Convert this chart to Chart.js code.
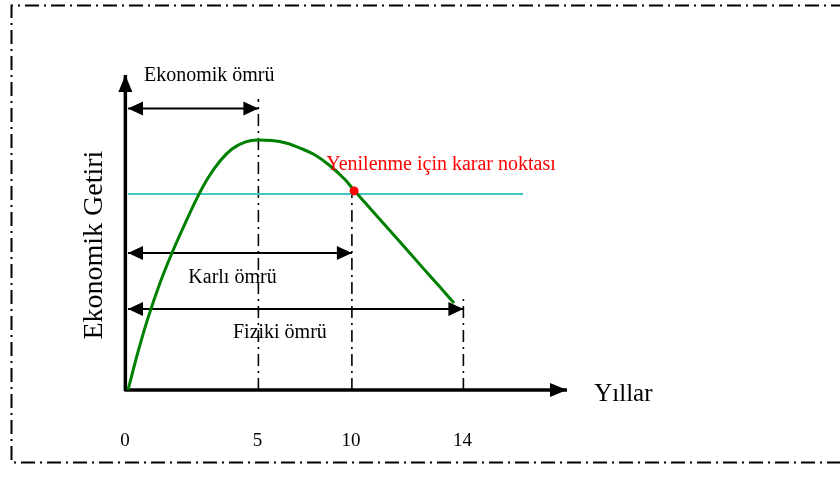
<!DOCTYPE html>
<html lang="tr">
<head>
<meta charset="utf-8">
<title>Ekonomik Getiri</title>
<script src="https://cdn.jsdelivr.net/npm/chart.js@4.4.1/dist/chart.umd.min.js"></script>
<style>
    html, body { margin: 0; padding: 0; background: #fff; }
    #wrap { position: relative; width: 840px; height: 483px; }
</style>
</head>
<body>
<div id="wrap"><canvas id="life-chart"></canvas></div>
<script>
(function() {
    'use strict';

    // x: drawing units along the time axis (0 = origin, 100 = arrow tip)
    // y: economic return (0 = origin, 100 = arrow tip)
    const yearLabels = ['0', '5', '10', '14'];
    const yearPositions = [0, 29.7, 51.0, 76.4];

    // economic return curve
    const curveX = [0, 2.28, 4.56, 7.29, 10.02, 12.76, 15.49, 18.22, 20.96, 23.69, 26.65, 29.61,
                    32.80, 35.99, 39.18, 42.60, 46.01, 49.43, 51.25, 53.99, 57.40, 61.96, 66.51, 71.07, 74.26];
    const curveY = [0, 12.1, 22.9, 34.0, 43.5, 52.1, 60.3, 67.3, 72.7, 76.5, 78.7, 79.4,
                    79.2, 78.4, 76.8, 74.6, 71.2, 66.8, 63.8, 59.5, 54.1, 47.0, 39.8, 32.7, 27.6];

    // minimum acceptable return (cyan line) and decision point
    const thresholdY = 62.2;
    const thresholdEndX = 90;
    const decisionX = 51.5;
    const decisionY = 63.2;
    const decisionLabel = 'Yenilenme için karar noktası';

    // life spans: economic, profitable, physical
    const lifeLabels = ['Ekonomik ömrü', 'Karlı ömrü', 'Fiziki ömrü'];
    const lifeEnds = [29.7, 51.0, 76.4];
    const lifeLevels = [89.4, 43.5, 25.7];
    const guideTops = [92.4, 61.9, 29.1];

    const axisTitleX = 'Yıllar';
    const axisTitleY = 'Ekonomik Getiri';

    const FONT = '"Liberation Serif", "Times New Roman", serif';

    function pts(xs, ys) {
        return xs.map((x, i) => ({ x: x, y: ys[i] }));
    }

    function drawHead(ctx, from, to, len, half) {
        const a = Math.atan2(to.y - from.y, to.x - from.x);
        const bx = to.x - len * Math.cos(a);
        const by = to.y - len * Math.sin(a);
        ctx.beginPath();
        ctx.moveTo(to.x, to.y);
        ctx.lineTo(bx + half * Math.sin(a), by - half * Math.cos(a));
        ctx.lineTo(bx - half * Math.sin(a), by + half * Math.cos(a));
        ctx.closePath();
        ctx.fill();
    }

    // Arrow heads on the ends of flagged datasets
    const arrowHeads = {
        id: 'arrowHeads',
        afterDatasetsDraw(chart) {
            const ctx = chart.ctx;
            chart.data.datasets.forEach((ds, i) => {
                if (!ds.arrows) return;
                const p = chart.getDatasetMeta(i).data;
                const n = p.length;
                ctx.save();
                ctx.fillStyle = ds.borderColor;
                if (ds.arrows.indexOf('end') !== -1) drawHead(ctx, p[n - 2], p[n - 1], ds.headLen, ds.headHalf);
                if (ds.arrows.indexOf('start') !== -1) drawHead(ctx, p[1], p[0], ds.headLen, ds.headHalf);
                ctx.restore();
            });
        }
    };

    // Dash-dot page frame
    const frame = {
        id: 'frame',
        beforeDraw(chart) {
            const ctx = chart.ctx;
            ctx.save();
            ctx.fillStyle = '#fff';
            ctx.fillRect(0, 0, chart.width, chart.height);
            ctx.strokeStyle = '#000';
            ctx.lineWidth = 2;
            ctx.setLineDash([14, 5, 2, 5]);
            ctx.beginPath();
            ctx.moveTo(chart.width + 5, 5.5);
            ctx.lineTo(11.5, 5.5);
            ctx.lineTo(11.5, 462.5);
            ctx.lineTo(chart.width + 5, 462.5);
            ctx.stroke();
            ctx.restore();
        }
    };

    // Texts placed through the scales
    const labels = {
        id: 'labels',
        afterDraw(chart) {
            const ctx = chart.ctx;
            const sx = chart.scales.x;
            const sy = chart.scales.y;
            const X = v => sx.getPixelForValue(v);
            const Y = v => sy.getPixelForValue(v);

            ctx.save();
            ctx.textBaseline = 'alphabetic';
            ctx.fillStyle = '#000';

            ctx.font = '20px ' + FONT;
            ctx.textAlign = 'center';
            ctx.fillText(lifeLabels[0], X(18.5), Y(98.2));
            ctx.fillText(lifeLabels[1], X(23.8), Y(34.1));
            ctx.fillText(lifeLabels[2], X(34.6), Y(16.4));

            ctx.fillStyle = '#ff0000';
            ctx.fillText(decisionLabel, X(71.3), Y(69.8));

            ctx.fillStyle = '#000';
            ctx.font = '19px ' + FONT;
            yearLabels.forEach((t, i) => {
                ctx.fillText(t, X(yearPositions[i]) - (i === 0 ? 3 : 1), Y(-17.8));
            });

            ctx.font = '25px ' + FONT;
            ctx.textAlign = 'left';
            ctx.fillText(axisTitleX, X(106.2), Y(-3.5));

            ctx.font = '28px ' + FONT;
            ctx.translate(X(-7.5), Y(46.0));
            ctx.rotate(-Math.PI / 2);
            ctx.textAlign = 'center';
            ctx.textBaseline = 'middle';
            ctx.fillText(axisTitleY, 0, 0);
            ctx.restore();
        }
    };

    const datasets = [];

    // decision point
    datasets.push({
        data: [{ x: decisionX, y: decisionY }],
        showLine: false,
        pointRadius: 4.5,
        pointBackgroundColor: '#ff0000',
        pointBorderWidth: 0
    });

    // return curve
    datasets.push({
        data: pts(curveX, curveY),
        borderColor: '#008000',
        borderWidth: 3,
        pointRadius: 0,
        cubicInterpolationMode: 'monotone'
    });

    // threshold line
    datasets.push({
        data: [{ x: 0, y: thresholdY }, { x: thresholdEndX, y: thresholdY }],
        borderColor: '#40c8c8',
        borderWidth: 2,
        pointRadius: 0
    });

    // life span arrows
    lifeEnds.forEach((end, i) => {
        datasets.push({
            data: [{ x: 0, y: lifeLevels[i] }, { x: end, y: lifeLevels[i] }],
            borderColor: '#000',
            borderWidth: 2,
            pointRadius: 0,
            arrows: ['start', 'end'],
            headLen: 15,
            headHalf: 7
        });
    });

    // dash-dot guides
    lifeEnds.forEach((end, i) => {
        datasets.push({
            data: [{ x: end, y: 0 }, { x: end, y: guideTops[i] }],
            borderColor: '#000',
            borderWidth: 1.6,
            borderDash: [12, 5, 2, 5],
            pointRadius: 0
        });
    });

    // axes
    datasets.push({
        data: [{ x: -0.8, y: 0 }, { x: 100, y: 0 }],
        borderColor: '#000',
        borderWidth: 3.5,
        pointRadius: 0,
        arrows: ['end'],
        headLen: 17,
        headHalf: 7
    });
    datasets.push({
        data: [{ x: -0.6, y: -0.3 }, { x: -0.6, y: 100 }],
        borderColor: '#000',
        borderWidth: 3.5,
        pointRadius: 0,
        arrows: ['end'],
        headLen: 17,
        headHalf: 7
    });

    datasets.forEach(ds => {
        ds.clip = false;
        ds.fill = false;
    });

    new Chart(document.getElementById('life-chart'), {
        type: 'line',
        data: { datasets: datasets },
        options: {
            responsive: true,
            maintainAspectRatio: false,
            animation: false,
            layout: {
                padding: { left: 128, right: 273, top: 75, bottom: 93 }
            },
            plugins: {
                legend: { display: false },
                tooltip: { enabled: false }
            },
            scales: {
                x: { type: 'linear', min: 0, max: 100, display: false },
                y: { type: 'linear', min: 0, max: 100, display: false }
            }
        },
        plugins: [frame, arrowHeads, labels]
    });
})();
</script>
</body>
</html>
